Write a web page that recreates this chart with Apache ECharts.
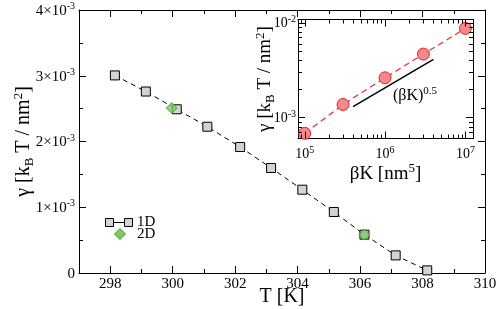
<!DOCTYPE html>
<html><head><meta charset="utf-8">
<script src="https://cdn.jsdelivr.net/npm/echarts@6/dist/echarts.min.js"></script>
<style>html,body{margin:0;padding:0;background:#fff}#c{width:498px;height:309px}</style>
</head><body><div id="c"></div>
<script>
// ---- data ----
const temps1D = [298.15, 299.14, 300.13, 301.11, 302.16, 303.15, 304.15, 305.16, 306.14, 307.14, 308.15];
const gamma1D = [3.005e-3, 2.76e-3, 2.49e-3, 2.225e-3, 1.916e-3, 1.597e-3, 1.267e-3, 0.928e-3, 0.583e-3, 0.268e-3, 0.04e-3];
const temps2D = [299.97, 306.14];
const gamma2D = [2.51e-3, 0.583e-3];
const betaK = [1e5, 3e5, 1e6, 3e6, 1e7];
const gammaInset = [6.8e-4, 1.37e-3, 2.62e-3, 4.66e-3, 8.7e-3];
const powerLawK = [4e5, 4e6];
const powerLawGamma = [1.3e-3, 4.11e-3];
const legendNames = ['1D', '2D'];
// tick values
const mainXMajor = [298, 300, 302, 304, 306, 308, 310];
const mainXMinor = [297, 299, 301, 303, 305, 307, 309];
const insetXMajor = [1e5, 1e6, 1e7];
const insetXMinor = [9e4, 2e5, 3e5, 4e5, 5e5, 6e5, 7e5, 8e5, 9e5, 2e6, 3e6, 4e6, 5e6, 6e6, 7e6, 8e6, 9e6];
const insetYMajor = [1e-3, 1e-2];
const insetYMinor = [7e-4, 8e-4, 9e-4, 2e-3, 3e-3, 4e-3, 5e-3, 6e-3, 7e-3, 8e-3, 9e-3];

const FONT = 'Liberation Serif';
const zip = (a, b) => a.map((v, i) => [v, b[i]]);

const supRich = (base, sup) => ({
  b: { fontFamily: FONT, fontSize: base, color: '#000', lineHeight: base + 2, verticalAlign: 'bottom' },
  s: { fontFamily: FONT, fontSize: sup, color: '#000', lineHeight: sup, verticalAlign: 'top' }
});
const nameRich = (size, small) => ({
  a: { fontFamily: FONT, fontSize: size, color: '#000', lineHeight: size + 4, verticalAlign: 'middle' },
  sub: { fontFamily: FONT, fontSize: small, color: '#000', lineHeight: small, verticalAlign: 'bottom' },
  sup: { fontFamily: FONT, fontSize: small, color: '#000', lineHeight: small, verticalAlign: 'top' }
});
const gammaName = '{a|γ [k}{sub|B}{a| T / nm}{sup|2}{a|]}';

const isPow10 = v => Math.abs(Math.log10(v) - Math.round(Math.log10(v))) < 1e-6;
const powLabel = v => isPow10(v) ? '{b|10}{s|' + Math.round(Math.log10(v)) + '}' : '';

const lineBlack = { color: '#000', width: 1 };
const SQ = { color: '#d3d3d3', border: '#000' };
const DM = { color: '#78cc62', border: '#3f9e2e' };

const mainXBase = { gridIndex: 0, type: 'value', min: 297, max: 310, splitLine: { show: false } };
const insetXBase = { gridIndex: 1, type: 'log', logBase: 10, min: 8.25e4, max: 1.243e7, splitLine: { show: false }, axisTick: { show: false } };
const insetYBase = { gridIndex: 1, type: 'log', logBase: 10, min: 6.0e-4, max: 1.08e-2, splitLine: { show: false }, axisTick: { show: false } };
const mainYBase = { gridIndex: 0, type: 'value', min: 0, max: 4e-3, interval: 1e-3, splitLine: { show: false },
  axisLine: { show: true, lineStyle: lineBlack },
  axisTick: { show: true, inside: true, length: 7, lineStyle: lineBlack },
  minorTick: { show: true, splitNumber: 2, length: 4, lineStyle: lineBlack } };

// custom tick data for inset (log axes)
const insetTickData = [];
insetXMajor.forEach(v => insetTickData.push([v, 1e-3, 0]));
insetXMinor.forEach(v => insetTickData.push([v, 1e-3, 1]));
insetYMajor.forEach(v => insetTickData.push([1e6, v, 2]));
insetYMinor.forEach(v => insetTickData.push([1e6, v, 3]));

const chart = echarts.init(document.getElementById('c'), null, { renderer: 'canvas' });
chart.setOption({
  animation: false,
  backgroundColor: '#fff',
  grid: [
    { left: 79, top: 10, width: 406, height: 263, containLabel: false, outerBoundsMode: 'none' },
    { left: 298, top: 19.5, width: 175, height: 119, containLabel: false, outerBoundsMode: 'none',
      show: true, backgroundColor: '#fff', borderWidth: 0 }
  ],
  xAxis: [
    Object.assign({}, mainXBase, { position: 'bottom',
      axisLine: { show: true, onZero: false, lineStyle: lineBlack },
      axisTick: { show: true, inside: true, length: 7, customValues: mainXMajor, lineStyle: lineBlack },
      axisLabel: { customValues: mainXMajor, fontFamily: FONT, fontSize: 15, color: '#000', margin: 4 },
      name: 'T [K]', nameLocation: 'middle', nameGap: 14, nameMoveOverlap: false,
      nameTextStyle: { fontFamily: FONT, fontSize: 20, color: '#000', verticalAlign: 'top' } }),
    Object.assign({}, mainXBase, { position: 'bottom', axisLine: { show: false, onZero: false },
      axisTick: { show: true, inside: true, length: 4, customValues: mainXMinor, lineStyle: lineBlack },
      axisLabel: { show: false } }),
    Object.assign({}, mainXBase, { position: 'top', axisLine: { show: true, onZero: false, lineStyle: lineBlack },
      axisTick: { show: true, inside: true, length: 7, customValues: mainXMajor, lineStyle: lineBlack },
      axisLabel: { show: false } }),
    Object.assign({}, mainXBase, { position: 'top', axisLine: { show: false, onZero: false },
      axisTick: { show: true, inside: true, length: 4, customValues: mainXMinor, lineStyle: lineBlack },
      axisLabel: { show: false } }),
    Object.assign({}, insetXBase, { position: 'bottom', axisLine: { show: true, onZero: false, lineStyle: lineBlack },
      axisLabel: { formatter: powLabel, margin: 7, rich: supRich(14, 10) },
      name: '{a|βK [nm}{sup|5}{a|]}', nameLocation: 'middle', nameGap: 24, nameMoveOverlap: false,
      nameTextStyle: { rich: nameRich(19, 13), verticalAlign: 'top' } }),
    Object.assign({}, insetXBase, { position: 'top', axisLine: { show: true, onZero: false, lineStyle: lineBlack },
      axisLabel: { show: false } })
  ],
  yAxis: [
    Object.assign({}, mainYBase, { position: 'left',
      axisLabel: { margin: 4, rich: supRich(15, 10),
        formatter: v => v === 0 ? '{b|0}' : '{b|' + Math.round(v * 1000) + '×10}{s|-3}' },
      name: gammaName, nameLocation: 'middle', nameGap: 43, nameRotate: 90, nameMoveOverlap: false,
      nameTextStyle: { rich: nameRich(20, 13) } }),
    Object.assign({}, mainYBase, { position: 'right', axisLabel: { show: false } }),
    Object.assign({}, insetYBase, { position: 'left', axisLine: { show: true, onZero: false, lineStyle: lineBlack },
      axisLabel: { formatter: powLabel, margin: 2, rich: supRich(14, 10) },
      name: gammaName, nameLocation: 'middle', nameGap: 21, nameRotate: 90, nameMoveOverlap: false,
      nameTextStyle: { rich: nameRich(19, 13) } }),
    Object.assign({}, insetYBase, { position: 'right', axisLine: { show: true, onZero: false, lineStyle: lineBlack },
      axisLabel: { show: false } })
  ],
  series: [
    { name: '1D', type: 'line', xAxisIndex: 0, yAxisIndex: 0, data: zip(temps1D, gamma1D),
      symbol: 'rect', symbolSize: 9,
      itemStyle: { color: SQ.color, borderColor: SQ.border, borderWidth: 1 },
      lineStyle: { color: '#000', width: 1, type: [5, 4] }, z: 3 },
    { name: '2D', type: 'scatter', xAxisIndex: 0, yAxisIndex: 0, data: zip(temps2D, gamma2D),
      symbol: 'diamond', symbolSize: 11,
      itemStyle: { color: DM.color, borderColor: DM.border, borderWidth: 1 }, z: 4 },
    { name: 'inset', type: 'line', xAxisIndex: 4, yAxisIndex: 2, data: zip(betaK, gammaInset),
      symbol: 'circle', symbolSize: 12,
      itemStyle: { color: '#f4898a', borderColor: '#e8232a', borderWidth: 1 },
      lineStyle: { color: '#ee2a2a', width: 1.2, type: [6, 4] }, z: 5 },
    { name: 'power', type: 'line', xAxisIndex: 4, yAxisIndex: 2, data: zip(powerLawK, powerLawGamma),
      symbol: 'none', lineStyle: { color: '#000', width: 1.5 }, z: 5 },
    { name: 'insetTicks', type: 'custom', xAxisIndex: 4, yAxisIndex: 2, data: insetTickData, clip: false, silent: true,
      renderItem: (params, api) => {
        const cs = params.coordSys;
        const kind = api.value(2);
        const p = api.coord([api.value(0), api.value(1)]);
        const len = (kind === 0 || kind === 2) ? 7 : 4;
        const st = { stroke: '#000', lineWidth: 1 };
        if (kind < 2) {
          const x = Math.round(p[0]) + 0.5;
          const yb = cs.y + cs.height, yt = cs.y;
          return { type: 'group', children: [
            { type: 'line', shape: { x1: x, y1: yb, x2: x, y2: yb - len }, style: st },
            { type: 'line', shape: { x1: x, y1: yt, x2: x, y2: yt + len }, style: st } ] };
        } else {
          const y = Math.round(p[1]) + 0.5;
          const xl = cs.x, xr = cs.x + cs.width;
          return { type: 'group', children: [
            { type: 'line', shape: { x1: xl, y1: y, x2: xl + len, y2: y }, style: st },
            { type: 'line', shape: { x1: xr, y1: y, x2: xr - len, y2: y }, style: st } ] };
        }
      }, z: 6 }
  ],
  graphic: [
    { type: 'text', left: 393, top: 86, z: 10,
      style: { text: '{a|(βK)}{s|0.5}', rich: {
        a: { fontFamily: FONT, fontSize: 16, fill: '#000', lineHeight: 18, verticalAlign: 'bottom' },
        s: { fontFamily: FONT, fontSize: 11, fill: '#000', lineHeight: 11, verticalAlign: 'top' } } } },
    // legend
    { type: 'group', z: 10, children: [
      { type: 'line', shape: { x1: 114, y1: 222.5, x2: 124, y2: 222.5 }, style: { stroke: '#000', lineWidth: 1 } },
      { type: 'rect', shape: { x: 105.5, y: 218.5, width: 8, height: 8 }, style: { fill: SQ.color, stroke: SQ.border, lineWidth: 1 } },
      { type: 'rect', shape: { x: 124.5, y: 218.5, width: 8, height: 8 }, style: { fill: SQ.color, stroke: SQ.border, lineWidth: 1 } },
      { type: 'text', x: 137, y: 222.5, style: { text: legendNames[0], fontFamily: FONT, fontSize: 15, fill: '#000', verticalAlign: 'middle' } },
      { type: 'polygon', shape: { points: [[120, 228.5], [125.5, 234], [120, 239.5], [114.5, 234]] }, style: { fill: DM.color, stroke: DM.border, lineWidth: 1 } },
      { type: 'text', x: 137, y: 234.5, style: { text: legendNames[1], fontFamily: FONT, fontSize: 15, fill: '#000', verticalAlign: 'middle' } }
    ] }
  ]
});
</script></body></html>
